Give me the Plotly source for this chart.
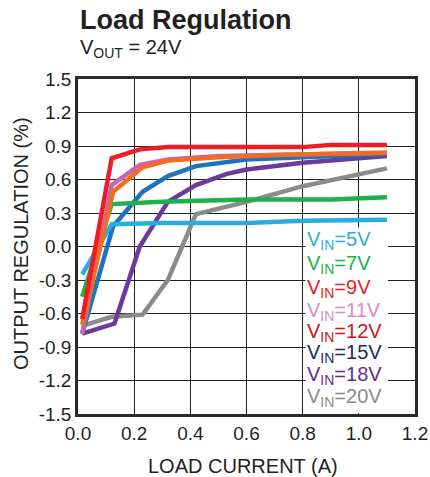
import plotly.graph_objects as go

# ---- data ----
vin_labels = ["5V", "7V", "9V", "11V", "12V", "15V", "18V", "20V"]

x_5v = [0.015, 0.12, 0.3, 0.6, 0.8, 1.1]
y_5v = [-0.25, 0.20, 0.21, 0.21, 0.23, 0.24]

x_7v = [0.015, 0.12, 0.3, 0.6, 0.9, 1.1]
y_7v = [-0.45, 0.38, 0.40, 0.42, 0.42, 0.44]

x_9v = [0.015, 0.12, 0.22, 0.32, 0.6, 0.8, 0.9, 1.1]
y_9v = [-0.65, 0.79, 0.87, 0.89, 0.89, 0.89, 0.91, 0.91]

x_11v = [0.015, 0.12, 0.22, 0.32, 0.5, 0.8, 1.1]
y_11v = [-0.78, 0.55, 0.73, 0.78, 0.81, 0.83, 0.84]

x_12v = [0.015, 0.125, 0.23, 0.32, 0.5, 0.7, 1.1]
y_12v = [-0.70, 0.49, 0.71, 0.77, 0.80, 0.82, 0.84]

x_15v = [0.015, 0.125, 0.23, 0.32, 0.42, 0.6, 0.8, 1.1]
y_15v = [-0.78, 0.18, 0.49, 0.63, 0.72, 0.78, 0.80, 0.83]

x_18v = [0.015, 0.13, 0.22, 0.32, 0.42, 0.53, 0.6, 0.8, 1.1]
y_18v = [-0.78, -0.69, 0.0, 0.40, 0.55, 0.65, 0.69, 0.75, 0.81]

x_20v = [0.015, 0.12, 0.23, 0.32, 0.42, 0.6, 0.8, 1.1]
y_20v = [-0.71, -0.63, -0.61, -0.30, 0.29, 0.40, 0.54, 0.70]

x_ticks = [0.0, 0.2, 0.4, 0.6, 0.8, 1.0, 1.2]
y_ticks = [1.5, 1.2, 0.9, 0.6, 0.3, 0.0, -0.3, -0.6, -0.9, -1.2, -1.5]

series = [
    ("20V", x_20v, y_20v, "#8B8B8B"),
    ("18V", x_18v, y_18v, "#6B3A9B"),
    ("15V", x_15v, y_15v, "#1C75BC"),
    ("7V", x_7v, y_7v, "#1EB04B"),
    ("5V", x_5v, y_5v, "#2AACE2"),
    ("11V", x_11v, y_11v, "#C766B0"),
    ("12V", x_12v, y_12v, "#F26C23"),
    ("9V", x_9v, y_9v, "#EE1C25"),
]

legend_colors = {
    "5V": "#2AACE2", "7V": "#1EB04B", "9V": "#EE1C25", "11V": "#D88CC4",
    "12V": "#C8161D", "15V": "#1D2B5E", "18V": "#652D90", "20V": "#8B8B8B",
}

fig = go.Figure()
for name, xs, ys, col in series:
    fig.add_trace(go.Scatter(x=xs, y=ys, mode="lines", name="VIN=" + name,
                             line=dict(color=col, width=4.5), showlegend=False))

FONT = "Liberation Sans, Arial, sans-serif"
TXT = "#231F20"
L, R, T, B = 78, 15, 79, 63
PW, PH = 430 - L - R, 477 - T - B


def px(xp):
    return (xp - L) / PW


def py(yp):
    return 1 - (yp - T) / PH


# white legend box (covers the grid)
fig.add_shape(type="rect", xref="x", yref="y", x0=0.81, x1=1.104, y0=-1.49, y1=0.17,
              fillcolor="white", line=dict(width=0), layer="between")

leg_y_px = [240, 264, 288, 311, 332, 353, 375, 397]
for lab, ypx in zip(vin_labels, leg_y_px):
    fig.add_annotation(xref="paper", yref="paper", x=px(305), y=py(ypx),
                       xanchor="left", yanchor="middle", showarrow=False,
                       text="V<sub>IN</sub>=" + lab,
                       font=dict(family=FONT, size=20, color=legend_colors[lab]))

fig.add_annotation(xref="paper", yref="paper", x=px(78), y=py(20),
                   xanchor="left", yanchor="middle", showarrow=False,
                   text="<b>Load Regulation</b>",
                   font=dict(family=FONT, size=27, color=TXT))
fig.add_annotation(xref="paper", yref="paper", x=px(78), y=py(48),
                   xanchor="left", yanchor="middle", showarrow=False,
                   text="V<sub>OUT</sub> = 24V",
                   font=dict(family=FONT, size=20, color=TXT))

# axis titles
fig.add_annotation(xref="paper", yref="paper", x=px(243), y=py(466),
                   xanchor="center", yanchor="middle", showarrow=False,
                   text="LOAD CURRENT (A)",
                   font=dict(family=FONT, size=20, color=TXT))
fig.add_annotation(xref="paper", yref="paper", x=px(21), y=py(244),
                   xanchor="center", yanchor="middle", showarrow=False,
                   textangle=-90, text="OUTPUT REGULATION (%)",
                   font=dict(family=FONT, size=20, color=TXT))

axis_common = dict(showgrid=True, gridcolor="#222222", gridwidth=1.2,
                   showline=True, linecolor="#2A2A2A", linewidth=2.5, mirror=True,
                   zeroline=False, ticks="", automargin=False,
                   tickfont=dict(family=FONT, size=19, color=TXT))

fig.update_layout(
    width=430, height=477,
    margin=dict(l=L, r=R, t=T, b=B),
    paper_bgcolor="white", plot_bgcolor="white",
    xaxis=dict(range=[0, 1.2], tickvals=x_ticks,
               ticktext=[f"{v:.1f}" for v in x_ticks], **axis_common),
    yaxis=dict(range=[-1.5, 1.5], tickvals=y_ticks,
               ticktext=[f"{v:.1f}" for v in y_ticks], **axis_common),
)

fig.write_html("out.html")
